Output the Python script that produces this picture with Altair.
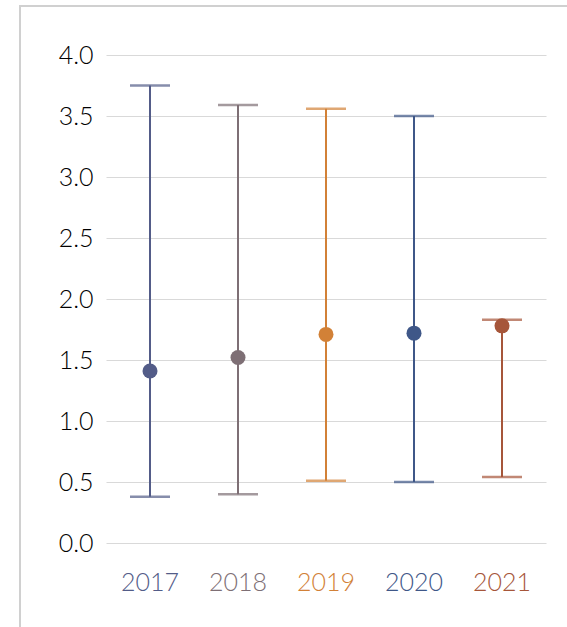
import altair as alt
import pandas as pd

years = ["2017", "2018", "2019", "2020", "2021"]
lows = [0.38, 0.40, 0.51, 0.50, 0.54]
means = [1.41, 1.52, 1.71, 1.72, 1.78]
highs = [3.75, 3.59, 3.56, 3.50, 1.83]
colors = ["#535C88", "#7E6F75", "#D28137", "#3F5788", "#A6563A"]

df = pd.DataFrame({"year": years, "low": lows, "mean": means, "high": highs})

FONT = "Lato"
W, H = 440, 488

xenc = alt.X("year:N", sort=years, scale=alt.Scale(paddingInner=0, paddingOuter=0),
             axis=alt.Axis(labels=False, ticks=False, domain=False, title=None, grid=False))
cenc = alt.Color("year:N", scale=alt.Scale(domain=years, range=colors), legend=None)
yscale = alt.Scale(domain=[0, 4], nice=False, zero=True)

base = alt.Chart(df)

rules = base.mark_rule(strokeWidth=2).encode(
    x=xenc,
    y=alt.Y("low:Q", scale=yscale,
            axis=alt.Axis(values=[0, 0.5, 1, 1.5, 2, 2.5, 3, 3.5, 4], format=".1f",
                          title=None, ticks=False, domain=False, labelPadding=13,
                          labelFont=FONT, labelFontSize=25, labelFontWeight=300,
                          labelColor="#000000",
                          gridColor="#D9D9D9", gridWidth=1)),
    y2="high:Q",
    color=cenc,
)

caps_hi = base.mark_tick(size=40, thickness=2.5).encode(x=xenc, y=alt.Y("high:Q", scale=yscale), color=cenc)
caps_lo = base.mark_tick(size=40, thickness=2.5).encode(x=xenc, y=alt.Y("low:Q", scale=yscale), color=cenc)
dots = base.mark_circle(size=225, opacity=1).encode(x=xenc, y=alt.Y("mean:Q", scale=yscale), color=cenc)

labels = base.mark_text(font=FONT, fontSize=25, fontWeight=300, baseline="top", align="center").encode(
    x=xenc, y=alt.value(H + 28), text="year:N", color=cenc)

frame_left = alt.Chart(pd.DataFrame({"a": [0]})).mark_rule(color="#D0D0D0", strokeWidth=2).encode(
    x=alt.value(-86), y=alt.value(-49), y2=alt.value(580))
frame_top = alt.Chart(pd.DataFrame({"a": [0]})).mark_rule(color="#D0D0D0", strokeWidth=2).encode(
    x=alt.value(-87), x2=alt.value(470), y=alt.value(-49))

chart = alt.layer(frame_left, frame_top, rules, caps_hi, caps_lo, dots, labels).properties(
    width=W, height=H,
    background="white",
    autosize=alt.AutoSizeParams(type="none"),
    padding={"left": 106, "top": 55, "right": 21, "bottom": 84},
).configure_view(strokeWidth=0, stroke="transparent")

chart.save("out.html", embed_options={"renderer": "svg", "actions": False})
